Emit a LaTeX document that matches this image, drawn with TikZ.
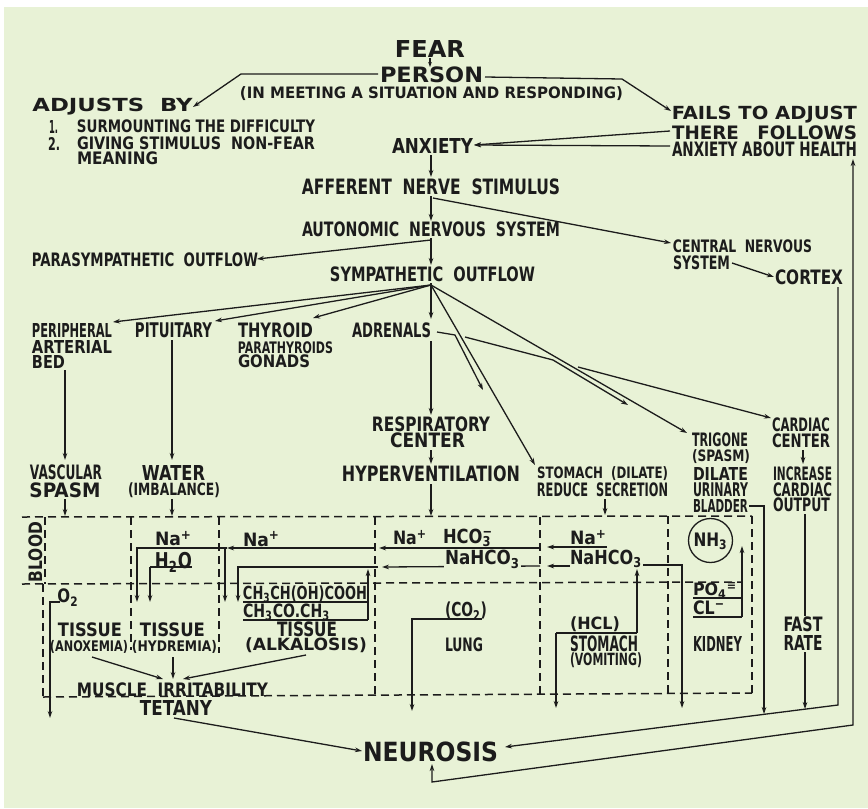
\documentclass[tikz,border=0pt]{standalone}
\usepackage{fontspec}
\setmainfont{DejaVu Sans Condensed}[BoldFont={DejaVu Sans Condensed Bold}]
\usetikzlibrary{arrows.meta}
\definecolor{bg}{RGB}{232,242,214}
\definecolor{ink}{RGB}{28,28,28}
\newcommand\F[3]{\resizebox*{#1pt}{#2pt}{\bfseries #3}}
\begin{document}
\begin{tikzpicture}[x=1pt,y=-1pt,
  every node/.style={inner sep=0pt,text=ink},
  ln/.style={draw=ink,line width=1.3pt},
  ar/.style={ln,-{Stealth[length=7pt,width=4.6pt]}},
  sar/.style={ln,-{Stealth[length=5pt,width=3.6pt]}},
  dsh/.style={draw=ink,line width=1.5pt,dash pattern=on 8pt off 5pt}]
\useasboundingbox (0,0) rectangle (868,809);
\fill[white] (0,0) rectangle (868,809);
\fill[bg] (4,7) rectangle (868,808);

% ---------- dashed compartments ----------
\draw[dsh] (22,517) -- (752,516);
\draw[dsh] (22,584) -- (742,582);
\draw[dsh] (43,697) -- (752,693);
\draw[dsh] (45,517) -- (45,584);
\draw[dsh] (43,584) -- (43,697);
\draw[dsh] (131,517) -- (131,650);
\draw[dsh] (219,517) -- (219,653);
\draw[dsh] (375,517) -- (375,695);
\draw[dsh] (540,517) -- (540,694);
\draw[dsh] (668,516) -- (668,693);
\draw[dsh] (752,516) -- (752,693);

% ---------- connectors, upper part ----------
\draw[sar] (430,58) -- (430,67);
\draw[ar] (378,74) -- (241,74) -- (193,107);
\draw[ar] (485,77) -- (622,79) -- (671,111);
\draw[ar] (670,131) -- (474,145);
\draw[ar] (670,146) -- (474,145);
\draw[ar] (431,155) -- (431,177);
\draw[ar] (431,196) -- (431,221);
\draw[ar] (433,198) -- (671,243);
\draw[ar] (431,240) -- (257,259);
\draw[ar] (431,238) -- (431,265);
\draw[ar] (732,263) -- (774,277);
\coordinate (fan) at (431,285);
\draw[ln] (431,283) -- (fan);
\draw[ar] (fan) -- (113,322);
\draw[ar] (fan) -- (215,321);
\draw[ar] (fan) -- (313,318);
\draw[ar] (fan) -- (431,319);
\draw[ar] (fan) -- (687,433);
\draw[ar] (fan) -- (535,465);
\draw[ar] (437,332) -- (455,335) -- (483,390);
\draw[ar] (465,337) -- (553,360) -- (628,405);
\draw[ar] (578,367) -- (771,418);
\draw[ar] (431,341) -- (431,415);
\draw[ar] (431,450) -- (431,464);
\draw[ar] (431,484) -- (431,516);
\draw[ar] (605,499) -- (605,515);
\draw[ar] (65,370) -- (65,460);
\draw[ar] (172,340) -- (172,460);
\draw[ar] (65,499) -- (65,516);
\draw[ar] (172,499) -- (172,516);
\draw[ar] (803,450) -- (803,464);
\draw[ln] (805,514) -- (805,616);
\draw[ar] (805,652) -- (805,709);
\draw[ar] (749,506) -- (764,506) -- (764,714);
\draw[ar] (838,287) -- (838,705) -- (505,747);
\draw[ln,{Stealth[length=7pt,width=4.6pt]}-{Stealth[length=7pt,width=4.6pt]}] (432,764) -- (432,782) -- (853,725) -- (853,159);
\draw[ar] (174,718) -- (362,751);

% ---------- connectors inside compartments ----------
\draw[ar] (607,547) -- (547,547);
\draw[ar] (540,548) -- (379,548);
\draw[ar] (375,548) -- (227,548);
\draw[ar] (227,548) -- (137,548) -- (137,602);
\draw[ar] (225,548) -- (225,602);
\draw[ln] (150,567) -- (192,567);
\draw[ar] (150,567) -- (150,602);
\draw[ar] (570,566) -- (547,566);
\draw[ar] (540,566) -- (382,567);
\draw[ar] (378,567) -- (238,567) -- (238,602);
\draw[ln] (243,602) -- (367,602);
\draw[ln] (243,620) -- (368,620);
\draw[ar] (368,620) -- (368,569);
\draw[ln] (556,633) -- (637,633);
\draw[ar] (637,633) -- (637,569);
\draw[ar] (556,633) -- (556,708);
\draw[ar] (643,565) -- (682,565) -- (682,708);
\draw[ln] (693,598) -- (742,598);
\draw[ln] (693,617) -- (742,617);
\draw[ar] (742,617) -- (742,546);
\draw[ar] (482,619) -- (412,619) -- (412,711);
\draw[ar] (60,602) -- (50,602) -- (50,718);
\draw[ar] (92,657) -- (163,679);
\draw[ar] (173,657) -- (173,679);
\draw[ar] (306,655) -- (183,679);

% ---------- texts ----------
\node (fear) at (430,48.5) {\F{70}{17}{FEAR}};
\node (person) at (431.5,75) {\F{103}{16}{PERSON}};
\node (meet) at (431.5,94) {\F{383}{14}{(IN MEETING A SITUATION AND RESPONDING)}};
\node (adjust) at (112.5,106.5) {\F{160}{17}{ADJUSTS\ \ BY}};
\node (one) at (53.5,126.5) {\F{9}{13}{1.}};
\node (surm) at (196,126.5) {\F{238}{13}{SURMOUNTING THE DIFFICULTY}};
\node (two) at (54,143.5) {\F{12}{13}{2.}};
\node (giving) at (196,143.5) {\F{238}{13}{GIVING STIMULUS\ \ NON-FEAR}};
\node (meaning) at (117.5,158.5) {\F{81}{13}{MEANING}};
\node (fails) at (764.5,114.5) {\F{185}{17}{FAILS TO ADJUST}};
\node (there) at (764.5,132.5) {\F{185}{14}{THERE\hspace{0.9em}FOLLOWS}};
\node (health) at (764.5,149) {\F{185}{15}{ANXIETY ABOUT HEALTH}};
\node (anx) at (432.5,145.5) {\F{81}{15}{ANXIETY}};
\node (aff) at (431,187) {\F{258}{16}{AFFERENT\ \ NERVE\ \ STIMULUS}};
\node (auto) at (431,229.5) {\F{258}{15}{AUTONOMIC\ \ NERVOUS\ \ SYSTEM}};
\node (para) at (145,260) {\F{226}{14}{PARASYMPATHETIC\ \ OUTFLOW}};
\node (symp) at (432.5,274.5) {\F{205}{15}{SYMPATHETIC\ \ OUTFLOW}};
\node (cns1) at (742.5,246.5) {\F{139}{13}{CENTRAL\ \ NERVOUS}};
\node (cns2) at (701.5,262.5) {\F{57}{14}{SYSTEM}};
\node (cortex) at (809,277.5) {\F{68}{15}{CORTEX}};
\node (peri1) at (72,330) {\F{80}{14}{PERIPHERAL}};
\node (peri2) at (72,346.5) {\F{80}{13}{ARTERIAL}};
\node (peri3) at (48.5,361.5) {\F{33}{13}{BED}};
\node (pit) at (173.5,330.5) {\F{77}{15}{PITUITARY}};
\node (thy1) at (275.5,330.5) {\F{75}{15}{THYROID}};
\node (thy2) at (285.5,347.5) {\F{95}{12}{PARATHYROIDS}};
\node (thy3) at (274,361.5) {\F{72}{13}{GONADS}};
\node (adr) at (391.5,330.5) {\F{79}{15}{ADRENALS}};
\node (resp1) at (431,424.5) {\F{118}{15}{RESPIRATORY}};
\node (resp2) at (427.5,440.5) {\F{75}{15}{CENTER}};
\node (hyper) at (431,473.5) {\F{178}{16}{HYPERVENTILATION}};
\node (stom1) at (602.5,473.5) {\F{131}{14}{STOMACH\ \ (DILATE)}};
\node (stom2) at (602.5,489.5) {\F{131}{14}{REDUCE\ \ SECRETION}};
\node (tri1) at (720,440) {\F{56}{14}{TRIGONE}};
\node (tri2) at (721,456.5) {\F{58}{14}{(SPASM)}};
\node (tri3) at (720.5,473.5) {\F{55}{13}{DILATE}};
\node (tri4) at (720.5,489.5) {\F{55}{14}{URINARY}};
\node (tri5) at (720.5,506) {\F{55}{13}{BLADDER}};
\node (card1) at (801,425) {\F{58}{14}{CARDIAC}};
\node (card2) at (801,441) {\F{58}{14}{CENTER}};
\node (inc1) at (802.5,473.5) {\F{59}{14}{INCREASE}};
\node (inc2) at (802.5,489.5) {\F{59}{14}{CARDIAC}};
\node (inc3) at (801.5,505) {\F{57}{14}{OUTPUT}};
\node (fast1) at (803,624.5) {\F{39}{15}{FAST}};
\node (fast2) at (803,642.5) {\F{39}{15}{RATE}};
\node (vasc1) at (66,472.5) {\F{72}{15}{VASCULAR}};
\node (vasc2) at (65,490) {\F{71}{15}{SPASM}};
\node (water1) at (173.5,472.5) {\F{63}{15}{WATER}};
\node (water2) at (174,490) {\F{92}{15}{(IMBALANCE)}};
\node[rotate=90] (blood) at (35.5,552) {\F{60}{14}{BLOOD}};
\node (na1) at (173.5,538.5) {\F{37}{15}{Na\textsuperscript{+}}};
\node (h2o) at (173.5,562) {\F{37}{20}{H\textsubscript{2}O}};
\node (na2) at (261.5,539) {\F{37}{15}{Na\textsuperscript{+}}};
\node (na3) at (410,537.5) {\F{34}{15}{Na\textsuperscript{+}}};
\node (hco3) at (468,538) {\F{50}{18}{HCO\rlap{\textsubscript{3}}\textsuperscript{−}}};
\node[fill=bg,inner sep=1pt] (nahco3a) at (482.5,559.5) {\F{75}{18}{NaHCO\textsubscript{3}}};
\node (na4) at (588.5,537.5) {\F{37}{15}{Na\textsuperscript{+}}};
\node (nahco3b) at (606,559) {\F{72}{18}{NaHCO\textsubscript{3}}};
\node[circle,draw=ink,line width=1.3pt,minimum size=44pt] (nh3c) at (710.5,540.5) {};
\node (nh3) at (710.5,541) {\F{34}{17}{NH\textsubscript{3}}};
\node (po4) at (715,590) {\F{44}{16}{PO\textsubscript{4}\textsuperscript{≡}}};
\node (cl) at (709,608) {\F{32}{14}{CL\textsuperscript{−}}};
\node (kid) at (717.5,643.5) {\F{49}{15}{KIDNEY}};
\node (hcl) at (595,624.5) {\F{50}{15}{(HCL)}};
\node (stom3) at (604,643.5) {\F{68}{16}{STOMACH}};
\node (vom) at (606,660.5) {\F{72}{15}{(VOMITING)}};
\node (co2) at (466,611) {\F{42}{18}{(CO\textsubscript{2})}};
\node (lung) at (464,645) {\F{38}{14}{LUNG}};
\node (lac) at (305,594) {\F{124}{17}{CH\textsubscript{3}CH(OH)COOH}};
\node (ace) at (286.5,612) {\F{87}{17}{CH\textsubscript{3}CO.CH\textsubscript{3}}};
\node (tis3) at (307,629.5) {\F{60}{15}{TISSUE}};
\node (alk) at (306,645.5) {\F{122}{15}{(ALKALOSIS)}};
\node (o2) at (68,597.5) {\F{21}{17}{O\textsubscript{2}}};
\node (tis1) at (90,630) {\F{64}{14}{TISSUE}};
\node (anox) at (89,646.5) {\F{78}{13}{(ANOXEMIA)}};
\node (tis2) at (172.5,630) {\F{65}{14}{TISSUE}};
\node (hyd) at (174.5,646.5) {\F{85}{13}{(HYDREMIA)}};
\node (muscle) at (172.5,690) {\F{191}{14}{MUSCLE\ \ IRRITABILITY}};
\node (tetany) at (176,707.5) {\F{72}{15}{TETANY}};
\node (neur) at (430.5,752) {\F{135}{20}{NEUROSIS}};
\end{tikzpicture}
\end{document}
